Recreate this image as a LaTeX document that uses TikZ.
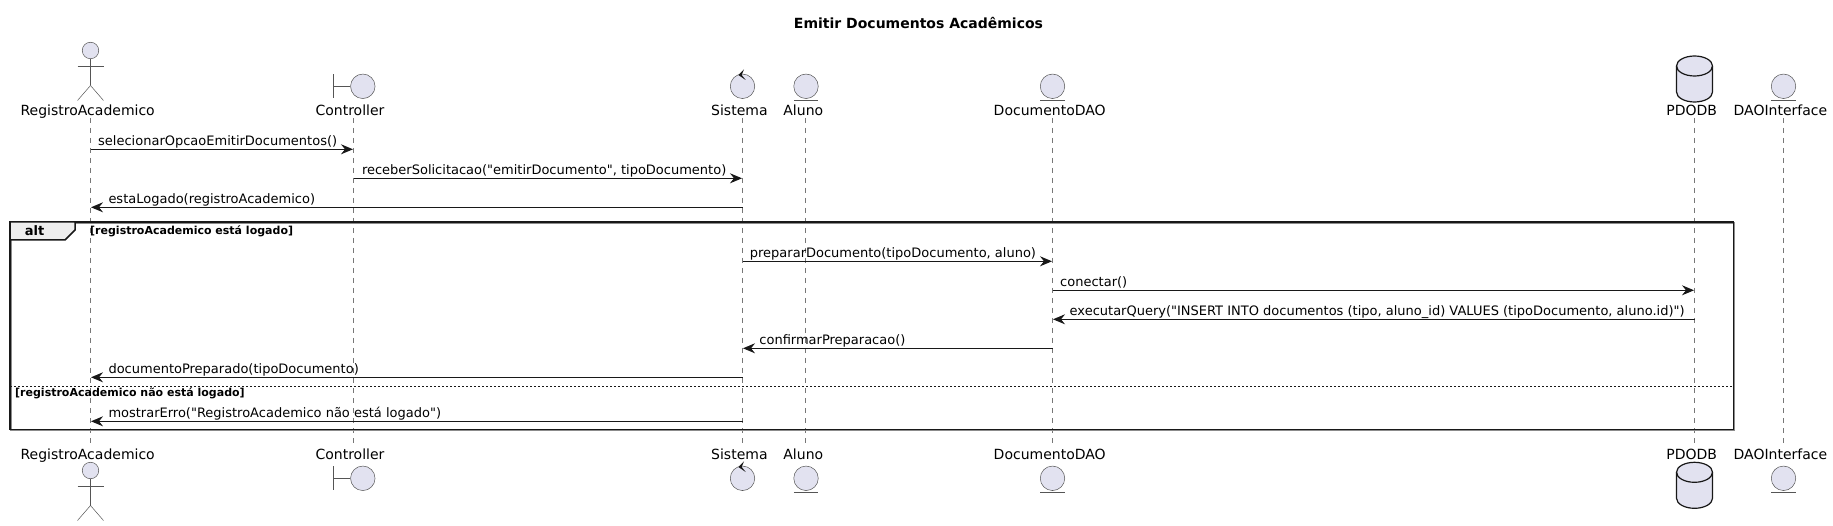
\documentclass[tikz,border=0pt]{standalone}
\usepackage{fontspec}
\newfontfamily\djv{DejaVu Sans}
\usetikzlibrary{arrows.meta,calc}
\definecolor{partfill}{HTML}{E2E2F0}
\definecolor{ink}{HTML}{181818}
\definecolor{thin}{HTML}{555555}
\definecolor{tabfill}{HTML}{EEEEEE}
\tikzset{
  msg/.style={draw=ink,line width=1pt,-{Stealth[length=12pt,width=10pt,inset=4pt,color=ink]},shorten >=0.5pt},
  msgtxt/.style={anchor=base west,inner sep=0pt,font=\djv\fontsize{13}{15}\selectfont,text=black},
  lifeline/.style={draw=thin!80,line width=0.5pt,dash pattern=on 5pt off 5pt},
  plabel/.style={anchor=base,inner sep=0pt,font=\djv\fontsize{14}{16}\selectfont,text=black},
  icon/.style={draw=thin,line width=0.5pt},
  ball/.style={circle,draw=thin,line width=0.5pt,fill=partfill,minimum size=24.5pt,inner sep=0pt},
  frameline/.style={draw=ink,line width=1.5pt},
  guard/.style={anchor=west,inner sep=0pt,font=\djv\fontsize{11}{13}\bfseries\selectfont,text=black},
}
\newcommand{\actoricon}[2]{% name, head centre
  \node[circle,draw=thin,line width=0.5pt,fill=partfill,minimum size=16.5pt,inner sep=0pt] (#1) at (#2) {};
  \draw[icon] (#1.south) -- ++(0,26.5) coordinate (#1hip);
  \draw[icon] ($(#1.south)+(-13,7.5)$) -- ($(#1.south)+(13,7.5)$);
  \draw[icon] ($(#1hip)+(-13,15)$) -- (#1hip) -- ($(#1hip)+(13,15)$);
}
\newcommand{\boundaryicon}[2]{%
  \node[ball] (#1) at (#2) {};
  \draw[icon] ($(#1.center)+(-29.5,-12)$) -- ($(#1.center)+(-29.5,12)$);
  \draw[icon] ($(#1.center)+(-29.5,0)$) -- (#1.west);
}
\newcommand{\controlicon}[2]{%
  \node[ball] (#1) at (#2) {};
  \fill[ink] ($(#1.center)+(-4.2,-11.3)$) -- ($(#1.center)+(1.5,-17)$) -- ($(#1.center)+(-0.8,-11.3)$) -- ($(#1.center)+(3.2,-6.3)$) -- cycle;
}
\newcommand{\entityicon}[2]{%
  \node[ball] (#1) at (#2) {};
  \draw[icon] ($(#1.center)+(-12.2,14)$) -- ($(#1.center)+(12.2,14)$);
}
\newcommand{\dbicon}[2]{% name, centre of the top ellipse
  \coordinate (#1) at (#2);
  \draw[draw=ink,line width=1.2pt,fill=partfill]
    ($(#1)+(-18,0)$) arc[start angle=180,end angle=360,x radius=18,y radius=10]
    -- ($(#1)+(18,26)$) arc[start angle=0,end angle=180,x radius=18,y radius=10] -- cycle;
  \draw[draw=ink,line width=1.2pt] ($(#1)+(-18,0)$) arc[start angle=180,end angle=0,x radius=18,y radius=10];
}
\begin{document}
\begin{tikzpicture}[x=1pt,y=-1pt]
\useasboundingbox[fill=white] (0,0) rectangle (1833,526);
% lifeline coordinates
\coordinate (topA) at (90.5,118);   \coordinate (botA) at (90.5,443);
\coordinate (topB) at (353.5,118);  \coordinate (botB) at (353.5,443);
\coordinate (topC) at (742.5,118);  \coordinate (botC) at (742.5,443);
\coordinate (topD) at (805.5,118);  \coordinate (botD) at (805.5,443);
\coordinate (topE) at (1052.5,118); \coordinate (botE) at (1052.5,443);
\coordinate (topF) at (1694.5,118); \coordinate (botF) at (1694.5,443);
\coordinate (topG) at (1783.5,118); \coordinate (botG) at (1783.5,443);
\foreach \p in {A,B,C,D,E,F,G} \draw[lifeline] (top\p) -- (bot\p);
% title
\node[inner sep=0pt,font=\djv\fontsize{14}{16}\bfseries\selectfont] (title) at (918.5,23) {Emitir Documentos Acadêmicos};
% top participants
\actoricon{aT}{90.5,50.5}
\boundaryicon{bT}{362.8,86.3}
\controlicon{cT}{742.5,86.3}
\entityicon{dT}{806,86.3}
\entityicon{eT}{1052.5,86.3}
\dbicon{fT}{1694.5,66}
\entityicon{gT}{1783.5,86.3}
\node[plabel] (la) at (87.7,115.2) {RegistroAcademico};
\node[plabel] (lb) at (350,115.2) {Controller};
\node[plabel] (lc) at (739.4,115.2) {Sistema};
\node[plabel] (ld) at (803.3,115.2) {Aluno};
\node[plabel] (le) at (1049.7,115.2) {DocumentoDAO};
\node[plabel] (lf) at (1691.7,115.2) {PDODB};
\node[plabel] (lg) at (1780.4,115.2) {DAOInterface};
% bottom participants
\node[plabel] (la2) at (87.7,459.2) {RegistroAcademico};
\node[plabel] (lb2) at (350,459.2) {Controller};
\node[plabel] (lc2) at (739.4,459.2) {Sistema};
\node[plabel] (ld2) at (803.3,459.2) {Aluno};
\node[plabel] (le2) at (1049.7,459.2) {DocumentoDAO};
\node[plabel] (lf2) at (1691.7,459.2) {PDODB};
\node[plabel] (lg2) at (1780.4,459.2) {DAOInterface};
\actoricon{aB}{90.5,470.5}
\boundaryicon{bB}{362.8,478.3}
\controlicon{cB}{742.5,478.3}
\entityicon{dB}{806,478.3}
\entityicon{eB}{1052.5,478.3}
\dbicon{fB}{1694.5,472.3}
\entityicon{gB}{1783.5,478.3}
% frame
\draw[draw=black!45,line width=1.5pt] (10.8,222.8) rectangle (1734.3,430.1);
\draw[frameline] (10,222) rectangle (1733.5,429.3);
\draw[frameline,fill=tabfill] (10,222) -- (75,222) -- (75,230) -- (65,240) -- (10,240) -- cycle;
\node[inner sep=0pt,font=\djv\fontsize{13}{15}\bfseries\selectfont] (alt) at (34.5,231) {alt};
\node[guard] (g1) at (90,231) {[registroAcademico está logado]};
\draw[draw=ink,line width=1pt,dash pattern=on 2pt off 2pt] (10,386.3) -- (1733.5,386.3);
\node[guard] (g2) at (15,393.5) {[registroAcademico não está logado]};
% messages
\coordinate (r1) at (0,149.3); \coordinate (r2) at (0,178.3); \coordinate (r3) at (0,207.3);
\coordinate (r4) at (0,261.3); \coordinate (r5) at (0,290.3); \coordinate (r6) at (0,319.3);
\coordinate (r7) at (0,348.3); \coordinate (r8) at (0,377.3); \coordinate (r9) at (0,421.3);
\draw[msg] (topA |- r1) -- (topB |- r1);
\draw[msg] (topB |- r2) -- (topC |- r2);
\draw[msg] (topC |- r3) -- (topA |- r3);
\draw[msg] (topC |- r4) -- (topE |- r4);
\draw[msg] (topE |- r5) -- (topF |- r5);
\draw[msg] (topF |- r6) -- (topE |- r6);
\draw[msg] (topE |- r7) -- (topC |- r7);
\draw[msg] (topC |- r8) -- (topA |- r8);
\draw[msg] (topC |- r9) -- (topA |- r9);
\node[msgtxt] (m1) at (98,145.3) {selecionarOpcaoEmitirDocumentos()};
\node[msgtxt] (m2) at (361.8,174.3) {receberSolicitacao("emitirDocumento", tipoDocumento)};
\node[msgtxt] (m3) at (108.3,203.3) {estaLogado(registroAcademico)};
\node[msgtxt] (m4) at (749.7,257.3) {prepararDocumento(tipoDocumento, aluno)};
\node[msgtxt] (m5) at (1060,286.3) {conectar()};
\node[msgtxt] (m6) at (1069.5,315.3) {executarQuery("INSERT INTO documentos (tipo, aluno\_id) VALUES (tipoDocumento, aluno.id)")};
\node[msgtxt] (m7) at (759.2,344.3) {confirmarPreparacao()};
\node[msgtxt] (m8) at (108.3,373.3) {documentoPreparado(tipoDocumento)};
\node[msgtxt] (m9) at (108.3,417.3) {mostrarErro("RegistroAcademico não está logado")};
\end{tikzpicture}
\end{document}
